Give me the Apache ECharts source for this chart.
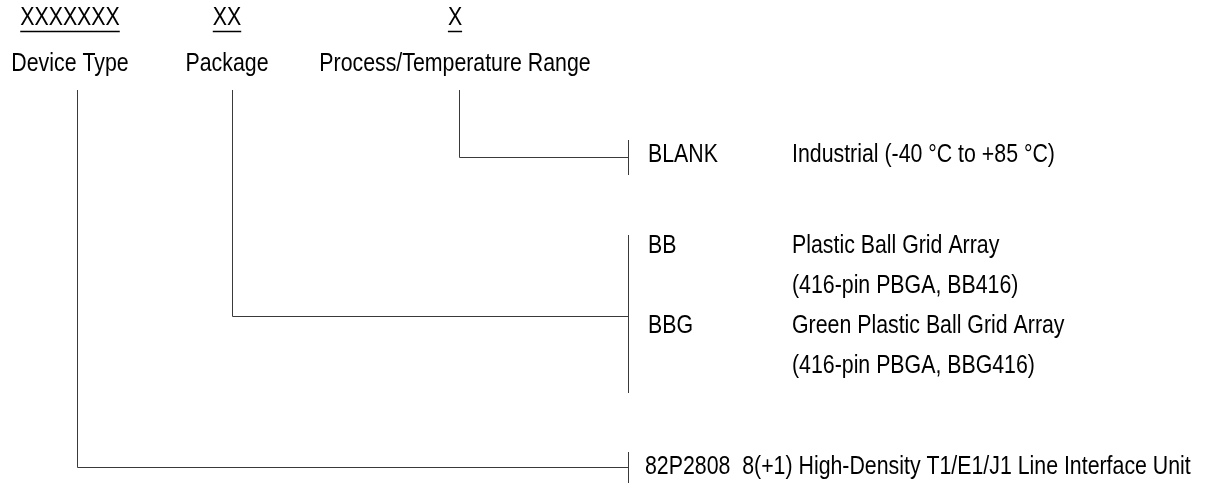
<!DOCTYPE html>
<html>
<head>
<meta charset="utf-8">
<script src="https://cdn.jsdelivr.net/npm/echarts@6/dist/echarts.min.js"></script>
<style>
  html, body { margin: 0; padding: 0; background: #fff; }
  #chart { width: 1220px; height: 491px; }
</style>
</head>
<body>
<div id="chart"></div>
<script>
// ---------------- data ----------------
const fieldCodes = ['XXXXXXX', 'XX', 'X'];
const fieldNames = ['Device Type', 'Package', 'Process/Temperature Range'];

const processCodes = ['BLANK'];
const processDescs = [['Industrial (-40 °C to +85 °C)']];

const packageCodes = ['BB', 'BBG'];
const packageDescs = [
  ['Plastic Ball Grid Array', '(416-pin PBGA, BB416)'],
  ['Green Plastic Ball Grid Array', '(416-pin PBGA, BBG416)']
];

const deviceCodes = ['82P2808'];
const deviceDescs = [['8(+1) High-Density T1/E1/J1 Line Interface Unit']];

// ---------------- layout (pixel space of the hidden axes) ----------------
const W = 1220, H = 491;
const FONT_FAMILY = '"Liberation Sans", Arial, sans-serif';
const FONT_SIZE = 26;
const NARROW = 0.82;           // horizontal squeeze to mimic a narrow face
const LINE_COLOR = '#3a3a3a';
const colX = [70, 227, 455];
const stemX = [77.5, 232.5, 459.5];
const codeY = 18, underlineY = 31.5, nameY = 64, stemTop = 90;
const bracketX = 628.5, optCodeX = 648, descX = 792, rowH = 40;

// groups, in field order (device, package, process)
const groups = [
  { codes: deviceCodes, descs: deviceDescs, branchY: 467.5, firstRowY: 467, bracket: [452, 483], inline: true, inlineX: 645 },
  { codes: packageCodes, descs: packageDescs, branchY: 316.5, firstRowY: 246, bracket: [235, 393] },
  { codes: processCodes, descs: processDescs, branchY: 157.5, firstRowY: 155, bracket: [140, 175] }
];

// ---------------- build marks ----------------
const measureCtx = document.createElement('canvas').getContext('2d');
measureCtx.font = FONT_SIZE + 'px ' + FONT_FAMILY;
function textWidth(s) { return measureCtx.measureText(s).width * NARROW; }

const textItems = [];
fieldCodes.forEach((c, i) => textItems.push({ x: colX[i], y: codeY, text: c, align: 'center', underline: true }));
fieldNames.forEach((n, i) => textItems.push({ x: colX[i], y: nameY, text: n, align: 'center' }));

const lineSeries = [];
function addLine(points) {
  lineSeries.push({
    type: 'line', data: points, symbol: 'none', silent: true, animation: false,
    lineStyle: { color: LINE_COLOR, width: 1 }
  });
}

groups.forEach((g, gi) => {
  addLine([[stemX[gi], stemTop], [stemX[gi], g.branchY], [bracketX, g.branchY]]);
  addLine([[bracketX, g.bracket[0]], [bracketX, g.bracket[1]]]);
  let row = 0;
  g.codes.forEach((code, ci) => {
    const y = g.firstRowY + row * rowH;
    if (g.inline) {
      textItems.push({ x: g.inlineX, y: y, text: code + '  ' + g.descs[ci].join(' '), align: 'left' });
      row += 1;
    } else {
      textItems.push({ x: optCodeX, y: y, text: code, align: 'left' });
      g.descs[ci].forEach((d, di) => {
        textItems.push({ x: descX, y: g.firstRowY + (row + di) * rowH, text: d, align: 'left' });
      });
      row += g.descs[ci].length;
    }
  });
});

const chart = echarts.init(document.getElementById('chart'), null, { renderer: 'canvas' });
chart.setOption({
  backgroundColor: '#fff',
  animation: false,
  grid: { left: 0, right: 0, top: 0, bottom: 0 },
  xAxis: { type: 'value', min: 0, max: W, show: false },
  yAxis: { type: 'value', min: 0, max: H, inverse: true, show: false },
  series: lineSeries.concat([{
    type: 'custom',
    coordinateSystem: 'cartesian2d',
    silent: true,
    animation: false,
    data: textItems.map((t, i) => [t.x, t.y, i]),
    renderItem: function (params, api) {
      const t = textItems[api.value(2)];
      const p = api.coord([api.value(0), api.value(1)]);
      const children = [{
        type: 'text', x: p[0], y: p[1], scaleX: NARROW, scaleY: 1,
        style: { text: t.text, fontSize: FONT_SIZE, fontFamily: FONT_FAMILY, fill: '#000', align: t.align, verticalAlign: 'middle' }
      }];
      if (t.underline) {
        const w = textWidth(t.text);
        const u = api.coord([t.x, underlineY]);
        children.push({
          type: 'line',
          shape: { x1: p[0] - w / 2, y1: u[1], x2: p[0] + w / 2, y2: u[1] },
          style: { stroke: '#000', lineWidth: 1.5 }
        });
      }
      return { type: 'group', children: children };
    }
  }])
});
</script>
</body>
</html>
